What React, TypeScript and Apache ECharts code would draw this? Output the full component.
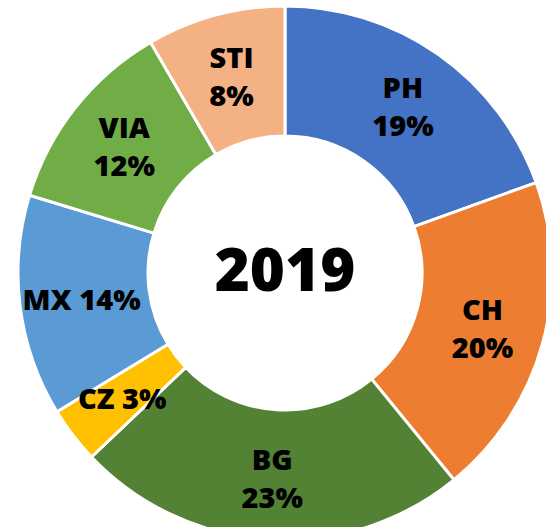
import React, { useEffect, useRef } from "react";
import * as echarts from "echarts";

const categories = ["PH", "CH", "BG", "CZ", "MX", "VIA", "STI"];
const shares = [19.5, 19.6, 23.8, 3.4, 13.4, 11.9, 8.4];
const percentLabels = ["19%", "20%", "23%", "3%", "14%", "12%", "8%"];
const colors = ["#4472C4", "#ED7D31", "#548235", "#FFC000", "#5B9BD5", "#70AD47", "#F4B183"];
const singleLine = ["CZ", "MX"];
const centerTitle = "2019";

export default function App() {
  const ref = useRef<HTMLDivElement>(null);
  useEffect(() => {
    document.body.style.margin = "0";
    const chart = echarts.init(ref.current!, null, { renderer: "svg" });
    chart.setOption({
      animation: false,
      backgroundColor: "#ffffff",
      graphic: [
        {
          type: "text",
          x: 285,
          y: 268,
          style: {
            text: centerTitle,
            font: "800 60px 'Open Sans'",
            fill: "#000",
            align: "center",
            verticalAlign: "middle",
          },
        },
      ],
      series: [
        {
          type: "pie",
          center: [285, 273],
          radius: [137, 267],
          startAngle: 90,
          clockwise: true,
          avoidLabelOverlap: false,
          itemStyle: { borderColor: "#ffffff", borderWidth: 3 },
          label: {
            show: true,
            position: "inside",
            color: "#000",
            fontFamily: "Open Sans",
            fontWeight: 800,
            fontSize: 29,
            lineHeight: 38,
            formatter: (p: any) =>
              singleLine.includes(p.name)
                ? `${p.name} ${percentLabels[p.dataIndex]}`
                : `${p.name}\n${percentLabels[p.dataIndex]}`,
          },
          labelLine: { show: false },
          data: categories.map((c, i) => ({
            name: c,
            value: shares[i],
            itemStyle: { color: colors[i] },
          })),
        },
      ],
    });
    return () => chart.dispose();
  }, []);
  return <div ref={ref} style={{ width: 546, height: 527 }} />;
}
